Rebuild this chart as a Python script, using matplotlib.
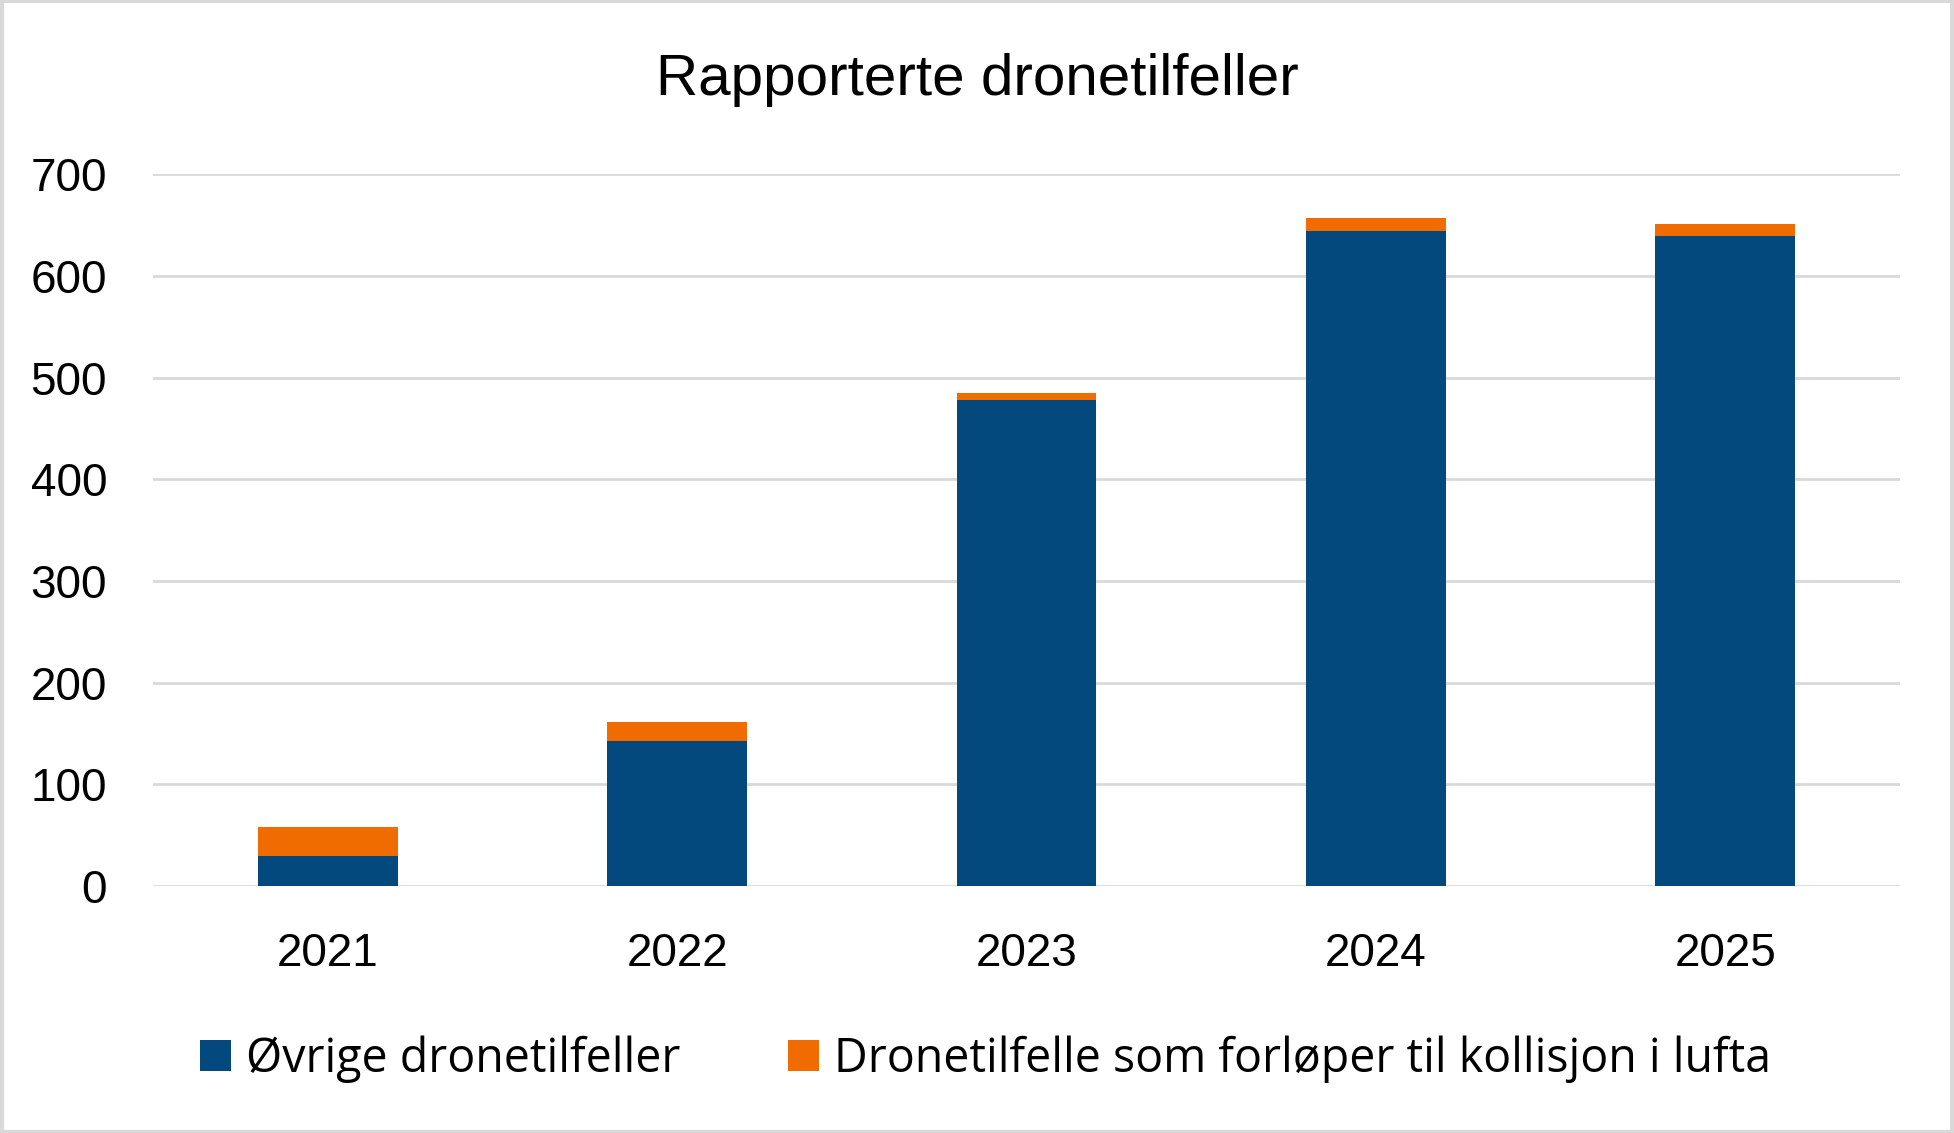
import matplotlib.pyplot as plt
import numpy as np

plt.rcParams['font.family'] = ['Liberation Sans', 'DejaVu Sans']

years = ['2021', '2022', '2023', '2024', '2025']
ovrige = [30, 143, 478, 644, 639]
kollisjon = [28, 18, 7, 13, 12]

blue = '#04497E'
orange = '#F06C00'

fig = plt.figure(figsize=(19.54, 11.33), dpi=100)
ax = fig.add_axes([0.0783, 0.218, 0.8941, 0.628])

x = np.arange(len(years))
ax.bar(x, ovrige, width=0.40, color=blue, label='Øvrige dronetilfeller', zorder=3)
ax.bar(x, kollisjon, width=0.40, bottom=ovrige, color=orange,
       label='Dronetilfelle som forløper til kollisjon i lufta', zorder=3)

ax.set_xlim(-0.5, len(years) - 0.5)
ax.set_ylim(0, 700)
ax.set_yticks(range(0, 701, 100))
ax.set_xticks(x)
ax.set_xticklabels(years)
ax.tick_params(axis='both', length=0, labelsize=33, colors='black')
ax.tick_params(axis='y', pad=33)
ax.tick_params(axis='x', pad=33)
ax.grid(axis='y', color='#D9D9D9', linewidth=2, zorder=0)
for s in ax.spines.values():
    s.set_visible(False)

fig.text(0.5, 0.916, 'Rapporterte dronetilfeller', ha='center', va='baseline', fontsize=42)

handles, labels = ax.get_legend_handles_labels()
fig.legend(handles, labels, loc='center', bbox_to_anchor=(0.5044, 0.0655), ncol=2,
           frameon=False, prop={'family': ['Open Sans', 'DejaVu Sans'], 'size': 33.5},
           handlelength=0.66, handleheight=0.66, handletextpad=0.33, columnspacing=2.3)

# light grey frame round the whole picture
fig.patches.append(plt.Rectangle((0.001, 0.001), 0.998, 0.998, transform=fig.transFigure,
                                 fill=False, edgecolor='#D9D9D9', linewidth=3))

fig.savefig('out.png', dpi=100)
